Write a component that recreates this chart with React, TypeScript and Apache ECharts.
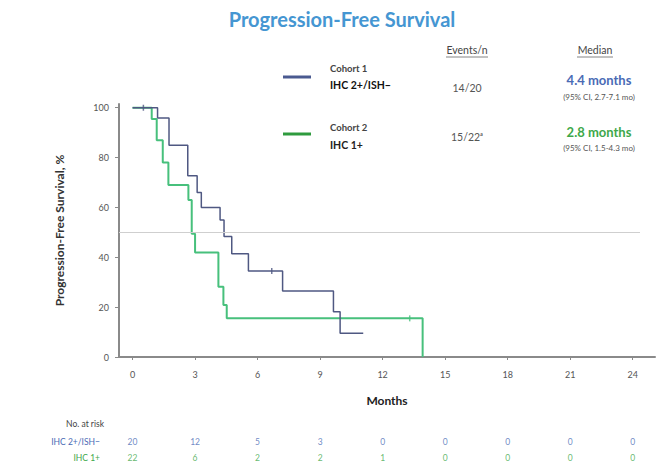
import React, { useEffect, useRef } from "react";
import * as echarts from "echarts";

// ---- data ----
const monthTicks = [0, 3, 6, 9, 12, 15, 18, 21, 24];
const survTicks = [0, 20, 40, 60, 80, 100];

const c1Times = [0, 1.2, 1.75, 2.65, 3.1, 3.3, 4.2, 4.39, 4.76, 5.56, 7.2, 9.64, 9.96, 11.07];
const c1Surv = [100, 95.9, 85, 72.7, 66, 60, 55, 48.3, 41.4, 34.5, 26.5, 18.2, 9.5, 9.5];
const c1Censor = [[0.52, 100], [6.68, 34.5]];

const c2Times = [0, 0.92, 1.16, 1.45, 1.72, 2.68, 2.84, 3.0, 4.12, 4.36, 4.52, 13.92];
const c2Surv = [100, 95.5, 87, 78, 69, 63, 49.4, 41.9, 28.2, 20.9, 15.5, 0];
const c2Censor = [[13.3, 15.5]];

const riskRows = ["IHC 2+/ISH\u2212", "IHC 1+"];
const risk1 = [20, 12, 5, 3, 0, 0, 0, 0, 0];
const risk2 = [22, 6, 2, 2, 1, 0, 0, 0, 0];

const BLUE_LINE = "#4f5882";
const GREEN_LINE = "#47c07c";
const BLUE_TXT = "#4a6bb5";
const GREEN_TXT = "#3ea84a";
const FONT = "Lato, 'Open Sans', sans-serif";

export default function App() {
  const ref = useRef<HTMLDivElement>(null);
  useEffect(() => {
    if (!ref.current) return;
    const chart = echarts.init(ref.current, null, { renderer: "svg" });
    const txt = (x: number, y: number, text: string, o: any = {}) => ({
      type: "text",
      x,
      y,
      silent: true,
      style: {
        text,
        x: 0,
        y: 0,
        align: o.align || "left",
        verticalAlign: "middle",
        fontSize: o.size || 10,
        fontWeight: o.weight || "normal",
        fontFamily: FONT,
        fill: o.color || "#444",
      },
    });
    const line = (x1: number, y1: number, x2: number, y2: number, color: string, w: number) => ({
      type: "line",
      silent: true,
      shape: { x1, y1, x2, y2 },
      style: { stroke: color, lineWidth: w },
    });

    chart.setOption({
      animation: false,
      textStyle: { fontFamily: FONT },
      graphic: [
        txt(342, 19, "Progression-Free Survival", { align: "center", size: 20, weight: "bold", color: "#4596d2" }),
        txt(467, 50, "Events/n", { align: "center", size: 10.5, color: "#444" }),
        line(446, 57, 488, 57, "#666", 0.8),
        txt(595, 50, "Median", { align: "center", size: 10.5, color: "#444" }),
        line(577, 57, 613, 57, "#666", 0.8),
        line(283, 77, 311, 77, "#4a5a90", 3),
        txt(330, 68, "Cohort 1", { size: 9.5, weight: "bold", color: "#444" }),
        txt(330, 85, "IHC 2+/ISH\u2212", { size: 10.5, weight: "bold", color: "#111" }),
        txt(467, 88, "14/20", { align: "center", size: 10.5, color: "#555" }),
        txt(599, 80, "4.4 months", { align: "center", size: 13, weight: "bold", color: BLUE_TXT }),
        txt(599, 97, "(95% CI, 2.7-7.1 mo)", { align: "center", size: 8, color: "#555" }),
        line(283, 134, 311, 134, "#2f9b3e", 3),
        txt(330, 127, "Cohort 2", { size: 9.5, weight: "bold", color: "#444" }),
        txt(330, 145, "IHC 1+", { size: 10.5, weight: "bold", color: "#222" }),
        txt(467, 137, "15/22\u1d43", { align: "center", size: 10.5, color: "#555" }),
        txt(599, 132, "2.8 months", { align: "center", size: 13, weight: "bold", color: GREEN_TXT }),
        txt(599, 148, "(95% CI, 1.5-4.3 mo)", { align: "center", size: 8, color: "#555" }),
        txt(104, 424, "No. at risk", { align: "right", size: 8.5, color: "#444" }),
      ],
      grid: [
        { left: 119, right: 12, top: 104, bottom: 112 },
        { left: 119, right: 12, top: 434, height: 32 },
      ],
      xAxis: [
        {
          type: "value",
          gridIndex: 0,
          min: -0.65,
          max: 25.07,
          axisLine: { onZero: false, lineStyle: { color: "#8a8a8a", width: 2 } },
          axisTick: { customValues: monthTicks, length: 3, lineStyle: { color: "#8a8a8a" } },
          axisLabel: { customValues: monthTicks, color: "#555", fontSize: 9, margin: 13 },
          splitLine: { show: false },
          name: "Months",
          nameLocation: "middle",
          nameGap: 37,
          nameTextStyle: { fontSize: 12, fontWeight: "bold", color: "#222" },
        },
        {
          type: "value",
          gridIndex: 1,
          min: -0.65,
          max: 25.07,
          show: false,
        },
      ],
      yAxis: [
        {
          type: "value",
          gridIndex: 0,
          min: 0,
          max: 101.5,
          axisLine: { show: true, onZero: false, lineStyle: { color: "#8a8a8a", width: 2 } },
          axisTick: { show: true, customValues: survTicks, length: 4, lineStyle: { color: "#8a8a8a" } },
          axisLabel: { customValues: survTicks, color: "#555", fontSize: 9, margin: 10 },
          splitLine: { show: false },
          name: "Progression-Free Survival, %",
          nameLocation: "middle",
          nameRotate: 90,
          nameGap: 54,
          nameTextStyle: { fontSize: 12, fontWeight: "bold", color: "#333" },
        },
        {
          type: "category",
          gridIndex: 1,
          inverse: true,
          data: [
            { value: riskRows[0], textStyle: { color: BLUE_TXT } },
            { value: riskRows[1], textStyle: { color: GREEN_TXT } },
          ],
          axisLine: { show: false },
          axisTick: { show: false },
          axisLabel: { fontSize: 8.5, margin: 19 },
        },
      ],
      series: [
        {
          type: "line",
          step: "end",
          showSymbol: false,
          data: c1Times.map((t, i) => [t, c1Surv[i]]),
          lineStyle: { color: BLUE_LINE, width: 1.5 },
          itemStyle: { color: BLUE_LINE },
          z: 3,
          markLine: {
            silent: true,
            symbol: "none",
            label: { show: false },
            lineStyle: { color: "#cfcfcf", width: 1, type: "solid" },
            data: [[{ coord: [-0.65, 50] }, { coord: [24.35, 50] }]],
          },
        },
        {
          type: "line",
          step: "end",
          showSymbol: false,
          data: c2Times.map((t, i) => [t, c2Surv[i]]),
          lineStyle: { color: GREEN_LINE, width: 2 },
          itemStyle: { color: GREEN_LINE },
          z: 2,
        },
        {
          type: "scatter",
          symbol: "rect",
          symbolSize: [1.5, 6],
          data: c1Censor,
          itemStyle: { color: BLUE_LINE },
          z: 4,
        },
        {
          type: "scatter",
          symbol: "rect",
          symbolSize: [1.5, 6],
          data: c2Censor,
          itemStyle: { color: GREEN_LINE },
          z: 4,
        },
        {
          type: "scatter",
          xAxisIndex: 1,
          yAxisIndex: 1,
          symbolSize: 0,
          data: monthTicks.map((m, i) => [m, riskRows[0], risk1[i]]),
          label: {
            show: true,
            position: "inside",
            formatter: (p: any) => String(p.value[2]),
            color: BLUE_TXT,
            fontSize: 8.5,
          },
        },
        {
          type: "scatter",
          xAxisIndex: 1,
          yAxisIndex: 1,
          symbolSize: 0,
          data: monthTicks.map((m, i) => [m, riskRows[1], risk2[i]]),
          label: {
            show: true,
            position: "inside",
            formatter: (p: any) => String(p.value[2]),
            color: GREEN_TXT,
            fontSize: 8.5,
          },
        },
      ],
    });
    return () => chart.dispose();
  }, []);
  return (
    <div
      ref={ref}
      style={{ position: "fixed", left: 0, top: 0, width: 667, height: 469, background: "#fff" }}
    />
  );
}
